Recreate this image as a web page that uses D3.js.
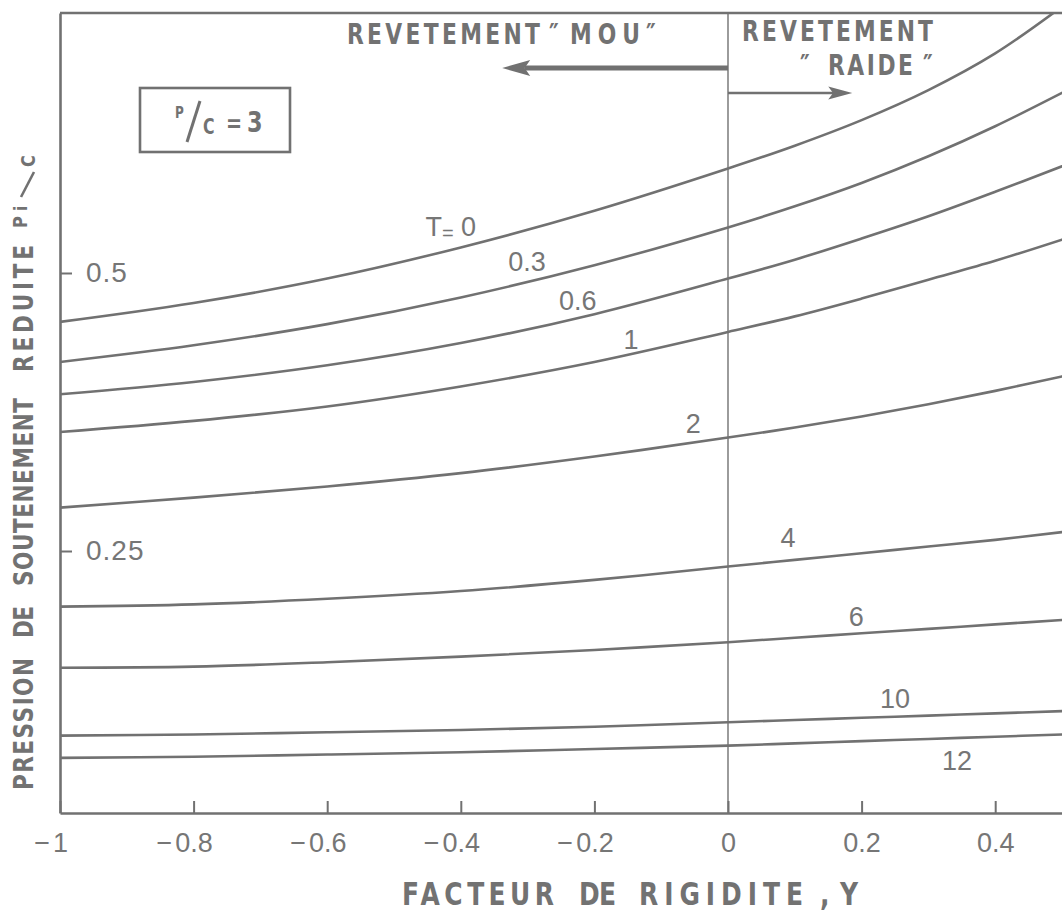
<!DOCTYPE html>
<html>
<head>
<meta charset="utf-8">
<script src="https://cdn.jsdelivr.net/npm/d3@7"></script>
<style>
  html, body { margin: 0; padding: 0; background: #fff; }
  svg { display: block; }
  .num { font-family: "Liberation Sans", Arial, sans-serif; fill: #767676; }
  .cond { font-family: "DejaVu Sans", sans-serif; font-weight: bold; fill: #727272; }
</style>
</head>
<body>
<svg id="chart" width="1062" height="914"></svg>
<script>
// Stiffness factor (horizontal axis) at which each curve is sampled
const rigidity = [-1, -0.8, -0.6, -0.4, -0.2, 0, 0.1, 0.2, 0.3, 0.4, 0.5];

// Reduced support pressure Pi/C for each value of T
const tNames = ["0", "0.3", "0.6", "1", "2", "4", "6", "10", "12"];
const t0  = [0.456, 0.473, 0.495, 0.523, 0.556, 0.594, 0.6145, 0.6375, 0.6645, 0.6975, 0.7395];
const t03 = [0.420, 0.435, 0.454, 0.478, 0.507, 0.541, 0.560, 0.581, 0.605, 0.632, 0.662];
const t06 = [0.391, 0.402, 0.417, 0.437, 0.463, 0.495, 0.512, 0.531, 0.551, 0.573, 0.596];
const t1  = [0.357, 0.367, 0.380, 0.398, 0.420, 0.447, 0.461, 0.477, 0.494, 0.511, 0.530];
const t2  = [0.289, 0.298, 0.308, 0.320, 0.335, 0.352, 0.361, 0.371, 0.382, 0.394, 0.407];
const t4  = [0.200, 0.202, 0.207, 0.214, 0.224, 0.236, 0.242, 0.248, 0.254, 0.260, 0.267];
const t6  = [0.145, 0.146, 0.150, 0.155, 0.161, 0.168, 0.172, 0.176, 0.180, 0.184, 0.188];
const t10 = [0.084, 0.085, 0.087, 0.089, 0.092, 0.096, 0.098, 0.100, 0.102, 0.104, 0.106];
const t12 = [0.064, 0.065, 0.067, 0.069, 0.072, 0.075, 0.077, 0.079, 0.081, 0.083, 0.085];
const tSeries = [t0, t03, t06, t1, t2, t4, t6, t10, t12];

// Axis ticks
const xTicks = [-1, -0.8, -0.6, -0.4, -0.2, 0, 0.2, 0.4];
const yTicks = [0.25, 0.5];

const svg = d3.select("#chart");
const INK = "#717171";

const x = d3.scaleLinear().domain([-1, 0.5]).range([60, 1062]);
const y = d3.scaleLinear().domain([0.0144, 0.7338]).range([813, 13]);

const [x0, x1] = x.range();
const [yb, yt] = y.range();

svg.append("defs").append("clipPath").attr("id", "plot")
  .append("rect").attr("x", x0).attr("y", yt).attr("width", x1 - x0).attr("height", yb - yt);

// Condensed, letter-spaced lettering: glyphs squeezed by sx, then spread to the given width
function cond(parent, px, py, str, size, width, sx) {
  return parent.append("text").attr("class", "cond")
    .attr("transform", `translate(${px},${py}) scale(${sx},1)`)
    .attr("font-size", size)
    .attr("textLength", width / sx).attr("lengthAdjust", "spacing")
    .text(str);
}

// top frame edge
svg.append("line")
  .attr("x1", x0).attr("x2", x1).attr("y1", yt).attr("y2", yt)
  .attr("stroke", INK).attr("stroke-width", 2.6);

// vertical reference at Y = 0
svg.append("line")
  .attr("x1", x(0)).attr("x2", x(0)).attr("y1", yt).attr("y2", yb)
  .attr("stroke", INK).attr("stroke-width", 1.4);

// bottom axis, ticks pointing inward
const gx = svg.append("g").attr("transform", `translate(0,${yb})`)
  .call(d3.axisBottom(x).tickValues(xTicks).tickSizeInner(-12).tickSizeOuter(0)
        .tickPadding(20).tickFormat(d => String(Math.abs(d))));
gx.select(".domain").attr("stroke", INK).attr("stroke-width", 2.6);
gx.selectAll(".tick line").attr("stroke", INK).attr("stroke-width", 2);
gx.selectAll(".tick text").attr("class", "num").attr("font-size", 27).attr("fill", "#767676");
gx.selectAll(".tick").each(function(d) {
  if (d >= 0) return;
  const t = d3.select(this).select("text");
  const w = t.node().getComputedTextLength();
  d3.select(this).append("text")
    .attr("class", "num").attr("font-size", 27).attr("fill", "#767676")
    .attr("text-anchor", "end")
    .attr("x", -w / 2 - 3).attr("y", t.attr("y")).attr("dy", t.attr("dy"))
    .text("\u2212");
});

// left axis, ticks and labels inside the frame
const gy = svg.append("g").attr("transform", `translate(${x0},0)`)
  .call(d3.axisRight(y).tickValues(yTicks).tickSizeInner(12).tickSizeOuter(0)
        .tickPadding(14).tickFormat(d => String(d)));
gy.select(".domain").attr("stroke", INK).attr("stroke-width", 2.6);
gy.selectAll(".tick line").attr("stroke", INK).attr("stroke-width", 2);
gy.selectAll(".tick text").attr("class", "num").attr("font-size", 28)
  .attr("letter-spacing", 1).attr("fill", "#767676");

// curves
const line = d3.line().x((d, i) => x(rigidity[i])).y(d => y(d)).curve(d3.curveCatmullRom.alpha(0.5));
svg.append("g").attr("clip-path", "url(#plot)")
  .selectAll("path").data(tSeries).join("path")
  .attr("d", line).attr("fill", "none")
  .attr("stroke", INK).attr("stroke-width", 2.6)
  .attr("stroke-linecap", "round");

// curve labels, placed in data coordinates
const labelAt = [
  [-0.415, 0.533], [-0.301, 0.502], [-0.225, 0.467], [-0.145, 0.432], [-0.052, 0.356],
  [0.090, 0.254], [0.192, 0.183], [0.250, 0.109], [0.343, 0.053]
];
const lbl = svg.append("g").attr("class", "num").attr("font-size", 27).attr("text-anchor", "middle");
tNames.forEach((name, i) => {
  const t = lbl.append("text").attr("x", x(labelAt[i][0])).attr("y", y(labelAt[i][1]));
  if (i === 0) {
    t.append("tspan").text("T");
    t.append("tspan").attr("font-size", 20).attr("dy", 4).text("=");
    t.append("tspan").attr("dy", -4).text("\u00a00");
  } else {
    t.text(name);
  }
});

// P/C = 3 box
const box = svg.append("g");
box.append("rect").attr("x", 140).attr("y", 88).attr("width", 150).attr("height", 64)
  .attr("fill", "none").attr("stroke", INK).attr("stroke-width", 2.6);
cond(box, 175, 118, "P", 16, 11, 0.75);
box.append("line").attr("x1", 187).attr("y1", 142).attr("x2", 200).attr("y2", 101)
  .attr("stroke", INK).attr("stroke-width", 3);
cond(box, 203, 134, "C", 21, 14, 0.75);
cond(box, 226, 132, "=", 24, 14, 0.8);
cond(box, 247, 132, "3", 28, 16, 0.8);

// soft / stiff lining annotations
cond(svg, 347, 44, "REVETEMENT", 28, 193, 0.78);
cond(svg, 549, 44, "\u2033", 28, 10, 0.78);
cond(svg, 570, 44, "MOU", 28, 70, 0.78);
cond(svg, 646, 44, "\u2033", 28, 10, 0.78);
cond(svg, 742, 41, "REVETEMENT", 28, 191, 0.78);
cond(svg, 800, 75, "\u2033", 28, 10, 0.78);
cond(svg, 828, 75, "RAIDE", 28, 85, 0.78);
cond(svg, 923, 75, "\u2033", 28, 10, 0.78);

function arrow(xFrom, xTo, yPos, width, headLen, headHalf) {
  const dir = Math.sign(xTo - xFrom);
  svg.append("line").attr("x1", xFrom).attr("x2", xTo - dir * headLen * 0.8)
    .attr("y1", yPos).attr("y2", yPos).attr("stroke", INK).attr("stroke-width", width);
  svg.append("path")
    .attr("d", `M${xTo},${yPos}L${xTo - dir * headLen},${yPos - headHalf}L${xTo - dir * headLen * 0.8},${yPos}L${xTo - dir * headLen},${yPos + headHalf}Z`)
    .attr("fill", INK);
}
arrow(x(0), x(-0.338), 68, 5, 28, 8);
arrow(x(0), x(0.186), 93, 2.6, 24, 6.5);

// horizontal axis title
cond(svg, 402, 905, "FACTEUR", 32, 152, 0.78);
cond(svg, 579, 905, "DE", 32, 37, 0.78);
cond(svg, 639, 905, "RIGIDITE", 32, 164, 0.78);
cond(svg, 820, 905, ",", 32, 10, 0.78);
cond(svg, 840, 905, "Y", 32, 25, 0.78);

// vertical axis title (reads bottom to top)
const yTitle = svg.append("g").attr("transform", "translate(33,790) rotate(-90)");
cond(yTitle, 0, 0, "PRESSION", 27, 132, 0.8);
cond(yTitle, 152, 0, "DE", 27, 32, 0.8);
cond(yTitle, 204, 0, "SOUTENEMENT", 27, 188, 0.8);
cond(yTitle, 418, 0, "REDUITE", 27, 127, 0.8);
cond(yTitle, 562, -6, "P", 19, 12, 0.85);
cond(yTitle, 579, -6, "i", 18, 6, 0.85);
cond(yTitle, 623, 2, "C", 19, 14, 0.85);
svg.append("line").attr("x1", 21).attr("y1", 197).attr("x2", 34).attr("y2", 172)
  .attr("stroke", INK).attr("stroke-width", 2.6);
</script>
</body>
</html>
